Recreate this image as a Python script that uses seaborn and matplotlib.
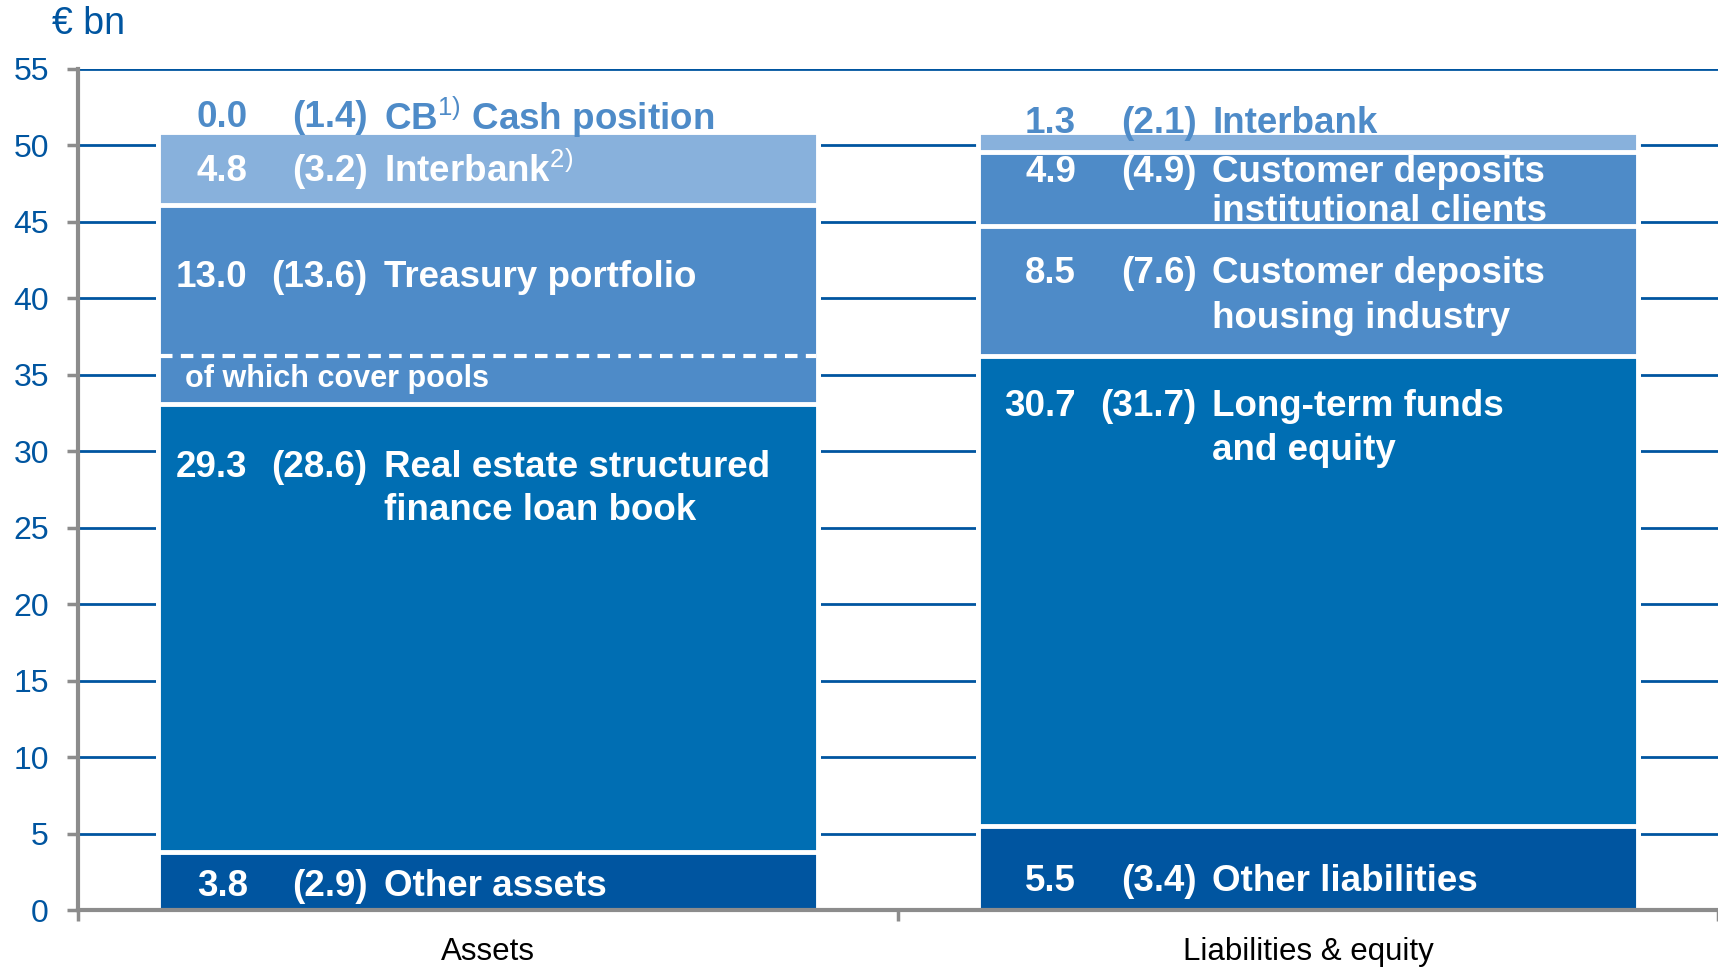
import matplotlib
matplotlib.use('Agg')

import pandas as pd
import matplotlib.pyplot as plt
import seaborn as sns

# === Data (EUR bn, previous year in brackets) ===
categories = ["Assets", "Liabilities & equity"]

asset_items = ["Other assets", "Real estate structured\nfinance loan book",
               "Treasury portfolio", r"Interbank$^{\mathrm{2)}}$",
               r"CB$^{\mathrm{1)}}$ Cash position"]
asset_values = [3.8, 29.3, 13.0, 4.8, 0.0]
asset_prev = [2.9, 28.6, 13.6, 3.2, 1.4]

liab_items = ["Other liabilities", "Long-term funds\nand equity",
              "Customer deposits\nhousing industry",
              "Customer deposits\ninstitutional clients", "Interbank"]
liab_values = [5.5, 30.7, 8.5, 4.9, 1.3]
liab_prev = [3.4, 31.7, 7.6, 4.9, 2.1]

cover_pools = 3.1  # part of treasury portfolio

# === Styles ===
DARK = "#0055A0"
MID = "#006EB3"
SOFT = "#4E8BC8"
LIGHT = "#88B1DC"
GREY = "#8C8C8C"

asset_colors = [DARK, MID, SOFT, LIGHT, LIGHT]
liab_colors = [DARK, MID, SOFT, SOFT, LIGHT]
asset_text_colors = ["white"] * 4 + [SOFT]
liab_text_colors = ["white"] * 4 + [SOFT]

# y of first text line and gap to second line for each segment (layout only)
asset_label_y = [1.55, 28.95, 41.35, 48.3, 51.85]
liab_label_y = [1.85, 32.95, 41.65, 48.25, 51.45]
asset_gaps = [0, 2.85, 0, 0, 0]
liab_gaps = [0, 2.9, 2.95, 2.6, 0]

sns.set_style("white")
plt.rcParams['font.family'] = ['Liberation Sans', 'DejaVu Sans']
plt.rcParams['mathtext.fontset'] = 'custom'
plt.rcParams['mathtext.rm'] = 'Liberation Sans'
plt.rcParams['mathtext.it'] = 'Liberation Sans:italic'
plt.rcParams['mathtext.bf'] = 'Liberation Sans:bold'

fig = plt.figure(figsize=(17.18, 9.67), dpi=100)
ax = fig.add_axes([78 / 1718, 57 / 967, 1 - 78 / 1718, (910 - 69) / 967])

# cumulative tops per level, drawn from top level down so lower segments overlay
asset_cum = pd.Series(asset_values).cumsum().tolist()
liab_cum = pd.Series(liab_values).cumsum().tolist()

for lvl in range(len(asset_values) - 1, -1, -1):
    df = pd.DataFrame({"category": categories,
                       "top": [asset_cum[lvl], liab_cum[lvl]]})
    sns.barplot(data=df, x="category", y="top", hue="category",
                palette=[asset_colors[lvl], liab_colors[lvl]], legend=False,
                order=categories, hue_order=categories, width=0.805,
                saturation=1, edgecolor="white", linewidth=3.5, ax=ax)

# dashed split inside treasury portfolio
treasury_bottom = asset_cum[1]
ax.hlines(treasury_bottom + cover_pools, -0.4, 0.4, colors="white",
          linestyles=(0, (3, 2)), linewidth=3, zorder=3)
ax.text(-0.369, 34.7, "of which cover pools", color="white", fontsize=22,
        fontweight="bold", va="center", ha="left", zorder=4)


def draw_labels(xbar, items, values, prev, ys, gaps, colors, dv, dp, dl):
    left = xbar - 0.4
    for name, v, p, y, g, c in zip(items, values, prev, ys, gaps, colors):
        kw = dict(color=c, fontsize=26.5, fontweight="bold", va="center", zorder=4)
        ax.text(left + dv, y, f"{v:.1f}", ha="right", **kw)
        ax.text(left + dp, y, f"({p:.1f})", ha="right", **kw)
        for i, line in enumerate(name.split("\n")):
            ax.text(left + dl, y - i * g, line, ha="left", **kw)


draw_labels(0, asset_items, asset_values, asset_prev, asset_label_y, asset_gaps,
            asset_text_colors, 0.107, 0.253, 0.273)
draw_labels(1, liab_items, liab_values, liab_prev, liab_label_y, liab_gaps,
            liab_text_colors, 0.117, 0.264, 0.283)

# === Axes styling ===
ax.set_xlim(-0.5, 1.497)
ax.set_ylim(0, 55)
ax.set_yticks(range(0, 56, 5))
ax.set_axisbelow(True)
ax.yaxis.grid(True, color=DARK, linewidth=2)
ax.xaxis.grid(False)
for side in ["top", "right"]:
    ax.spines[side].set_visible(False)
for side in ["left", "bottom"]:
    ax.spines[side].set_color(GREY)
    ax.spines[side].set_linewidth(3)
    ax.spines[side].set_zorder(5)

ax.tick_params(axis="y", which="major", left=True, length=8, width=2.5,
               color=GREY, labelsize=23, labelcolor=DARK, pad=13)
ax.tick_params(axis="x", which="major", bottom=False, labelsize=22.5,
               labelcolor="black", pad=16)
ax.set_xticks([-0.5, 0.5, 1.5], minor=True)
ax.tick_params(axis="x", which="minor", bottom=True, length=8, width=2.5, color=GREY)
ax.set_xlabel("")
ax.set_ylabel("")

fig.text(52 / 1718, 1 - 24 / 967, "€ bn", color=DARK, fontsize=27,
         va="center", ha="left")

fig.savefig("out.png", dpi=100)
plt.close(fig)
